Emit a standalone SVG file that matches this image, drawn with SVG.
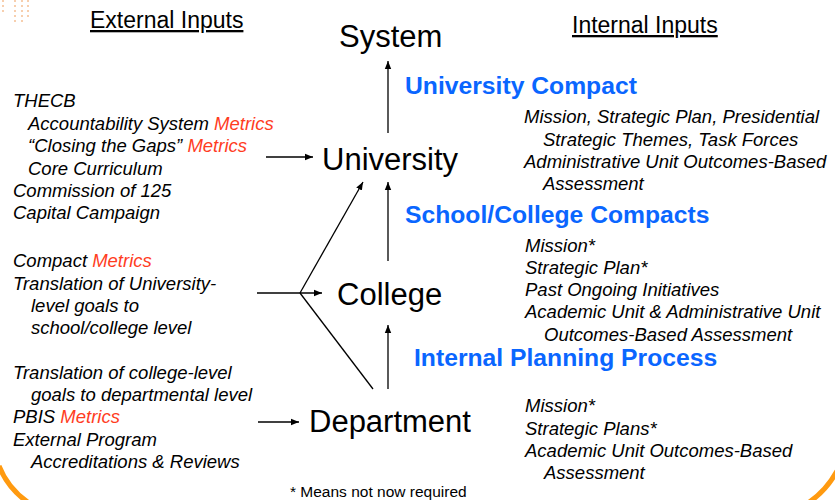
<svg xmlns="http://www.w3.org/2000/svg" width="835" height="500" viewBox="0 0 835 500">
<style>
.hdr{font-family:"Liberation Sans",Arial,sans-serif;font-size:23px;fill:#000;text-decoration:underline}
.node{font-family:"Liberation Sans",Arial,sans-serif;font-size:31px;fill:#000}
.blue{font-family:"Liberation Sans",Arial,sans-serif;font-size:24.7px;font-weight:bold;fill:#0a66ff}
.it{font-family:"Liberation Sans",Arial,sans-serif;font-size:18.5px;font-style:italic;fill:#000}
.red{fill:#ff3d1f}
.note{font-family:"Liberation Sans",Arial,sans-serif;font-size:15.5px;fill:#000}
.ln{stroke:#000;stroke-width:1.3;fill:none}
.deco{stroke:#f0a060;stroke-width:2;stroke-dasharray:2 3;opacity:0.5}
</style>
<defs>
<marker id="ah" viewBox="0 0 10 10" refX="10" refY="5" markerWidth="8" markerHeight="8" markerUnits="userSpaceOnUse" orient="auto">
<path d="M0,1 L10,5 L0,9 Z" fill="#000"/>
</marker>
</defs>
<rect width="835" height="500" fill="#fff"/>
<g id="decoration">
<line class="deco" x1="3" y1="0" x2="3" y2="14"/>
<line class="deco" x1="15" y1="0" x2="15" y2="24"/>
<line class="deco" x1="22" y1="0" x2="22" y2="24"/>
<line class="deco" x1="28" y1="0" x2="28" y2="20"/>
<path d="M-1,466 Q8,489 29,503" stroke="#ff9a10" stroke-width="5" fill="none"/>
<path d="M837,471 Q826,491 808,503" stroke="#ff9a10" stroke-width="5" fill="none"/>
</g>
<g id="headers">
<text class="hdr" x="90" y="28">External Inputs</text>
<text class="hdr" x="572" y="33">Internal Inputs</text>
</g>
<g id="connectors">
<line class="ln" x1="388" y1="133" x2="388" y2="61" marker-end="url(#ah)"/>
<line class="ln" x1="388" y1="261" x2="388" y2="182" marker-end="url(#ah)"/>
<line class="ln" x1="388" y1="389" x2="388" y2="325" marker-end="url(#ah)"/>
<line class="ln" x1="266" y1="157" x2="313" y2="157" marker-end="url(#ah)"/>
<line class="ln" x1="257" y1="293" x2="322" y2="293" marker-end="url(#ah)"/>
<line class="ln" x1="300" y1="293" x2="363" y2="182" marker-end="url(#ah)"/>
<line class="ln" x1="300" y1="293" x2="373" y2="389"/>
<line class="ln" x1="258" y1="422" x2="299" y2="422" marker-end="url(#ah)"/>
</g>
<g id="system"><text class="node" x="339" y="47">System</text></g>
<g id="university"><text class="node" x="322" y="170">University</text></g>
<g id="college"><text class="node" x="337" y="305">College</text></g>
<g id="department"><text class="node" x="309" y="432">Department</text></g>
<g id="labels">
<text class="blue" x="405" y="94">University Compact</text>
<text class="blue" x="405" y="223">School/College Compacts</text>
<text class="blue" x="414" y="366">Internal Planning Process</text>
</g>
<g id="ext-university">
<text class="it" x="13" y="107">THECB</text>
<text class="it" x="28" y="130">Accountability System <tspan class="red">Metrics</tspan></text>
<text class="it" x="28" y="152">“Closing the Gaps” <tspan class="red">Metrics</tspan></text>
<text class="it" x="28" y="175">Core Curriculum</text>
<text class="it" x="13" y="197">Commission of 125</text>
<text class="it" x="13" y="219">Capital Campaign</text>
</g>
<g id="ext-college">
<text class="it" x="13" y="267">Compact <tspan class="red">Metrics</tspan></text>
<text class="it" x="13" y="290">Translation of University-</text>
<text class="it" x="31" y="312">level goals to</text>
<text class="it" x="31" y="334">school/college level</text>
</g>
<g id="ext-department">
<text class="it" x="13" y="379">Translation of college-level</text>
<text class="it" x="31" y="401">goals to departmental level</text>
<text class="it" x="13" y="423">PBIS <tspan class="red">Metrics</tspan></text>
<text class="it" x="13" y="446">External Program</text>
<text class="it" x="31" y="468">Accreditations &amp; Reviews</text>
</g>
<g id="int-university">
<text class="it" x="524" y="123">Mission, Strategic Plan, Presidential</text>
<text class="it" x="543" y="146">Strategic Themes, Task Forces</text>
<text class="it" x="524" y="168">Administrative Unit Outcomes-Based</text>
<text class="it" x="543" y="190">Assessment</text>
</g>
<g id="int-college">
<text class="it" x="525" y="252">Mission*</text>
<text class="it" x="525" y="274">Strategic Plan*</text>
<text class="it" x="525" y="296">Past Ongoing Initiatives</text>
<text class="it" x="525" y="318">Academic Unit &amp; Administrative Unit</text>
<text class="it" x="544" y="341">Outcomes-Based Assessment</text>
</g>
<g id="int-department">
<text class="it" x="525" y="412">Mission*</text>
<text class="it" x="525" y="435">Strategic Plans*</text>
<text class="it" x="525" y="457">Academic Unit Outcomes-Based</text>
<text class="it" x="544" y="479">Assessment</text>
</g>
<g id="footnote"><text class="note" x="290" y="497">* Means not now required</text></g>
</svg>
